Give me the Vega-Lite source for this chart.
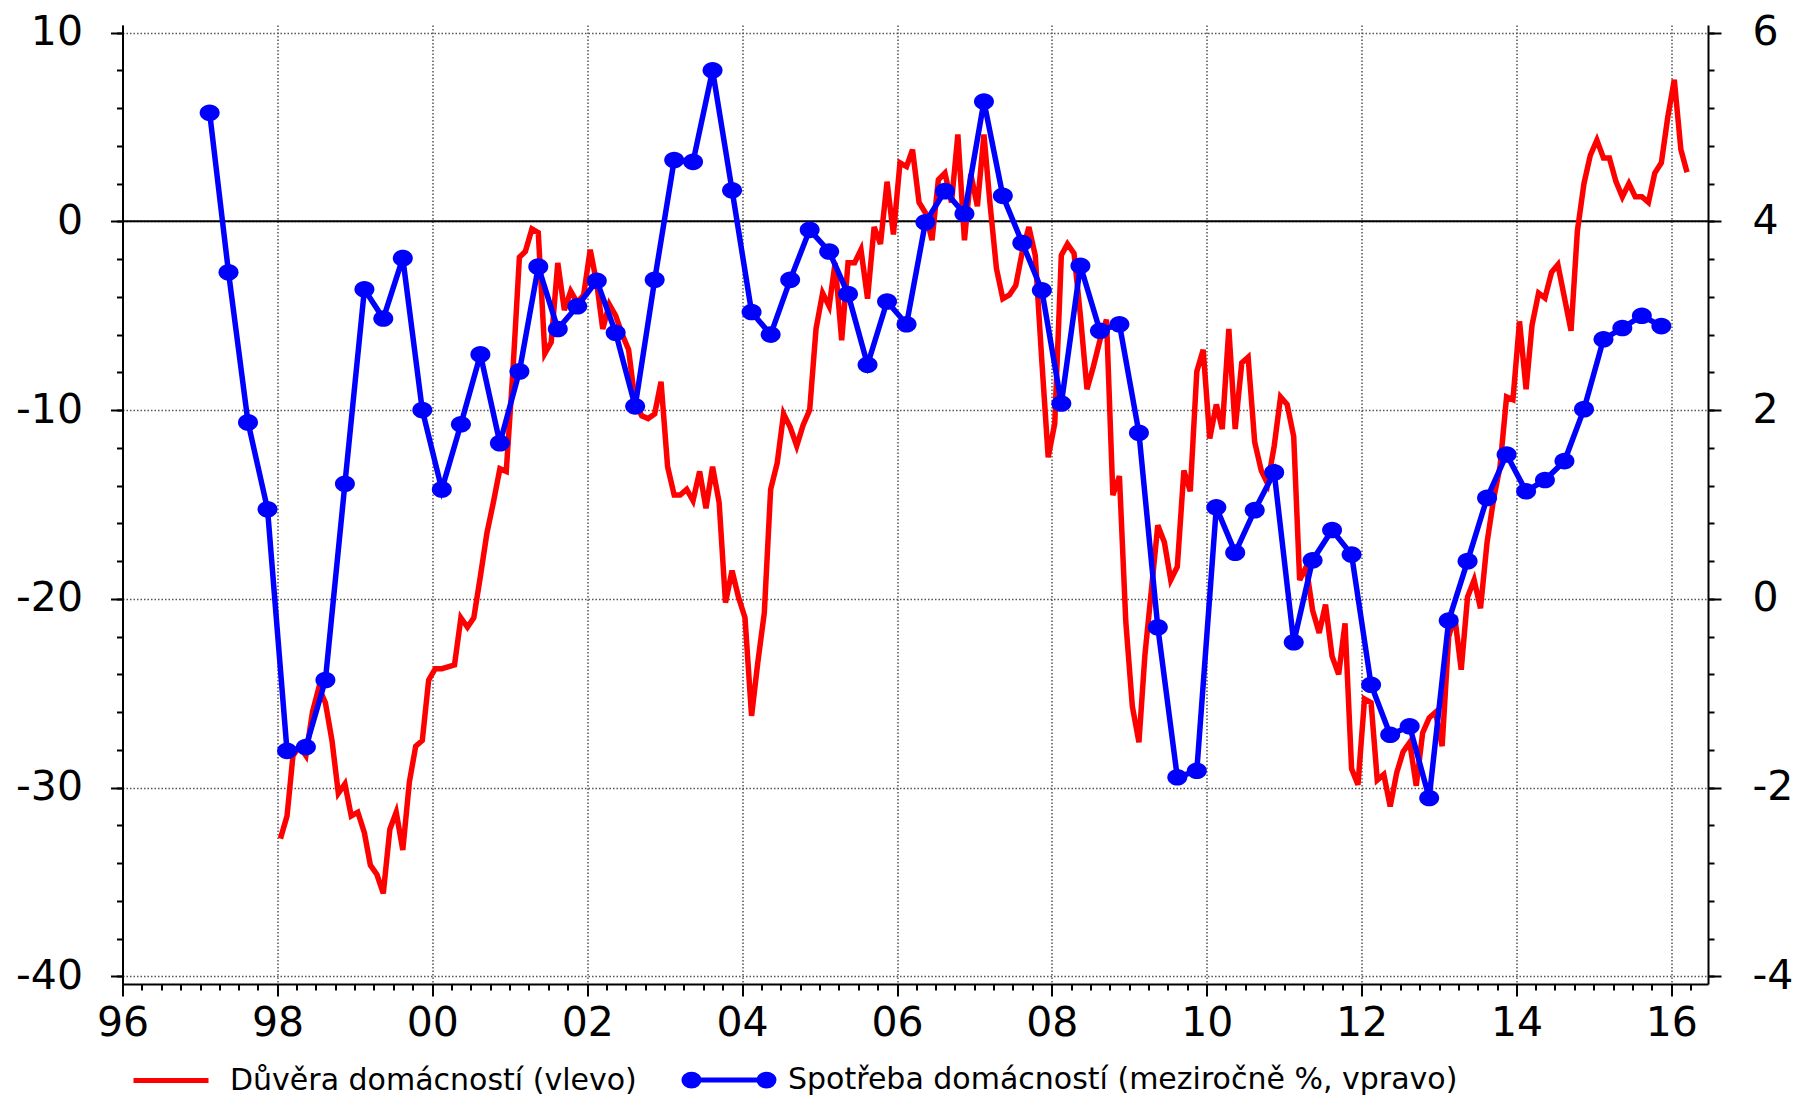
{
 "$schema": "https://vega.github.io/schema/vega-lite/v6.json",
 "width": 1585.5,
 "height": 959,
 "autosize": {"type": "none"},
 "padding": {"left": 122.5, "top": 25, "right": 92, "bottom": 112},
 "background": "white",
 "config": {"view": {"stroke": null}, "font": "DejaVu Sans"},
 "datasets": {
  "conf": [
   {"d":"1998-01-15","v":-32.7},{"d":"1998-02-15","v":-31.5},{"d":"1998-03-15","v":-28.3},{"d":"1998-04-15","v":-27.8},{"d":"1998-05-15","v":-28.3},{"d":"1998-06-15","v":-26.0},{"d":"1998-07-15","v":-24.7},{"d":"1998-08-15","v":-25.5},{"d":"1998-09-15","v":-27.5},{"d":"1998-10-15","v":-30.3},{"d":"1998-11-15","v":-29.8},{"d":"1998-12-15","v":-31.5},
   {"d":"1999-01-15","v":-31.3},{"d":"1999-02-15","v":-32.4},{"d":"1999-03-15","v":-34.1},{"d":"1999-04-15","v":-34.6},{"d":"1999-05-15","v":-35.6},{"d":"1999-06-15","v":-32.2},{"d":"1999-07-15","v":-31.3},{"d":"1999-08-15","v":-33.3},{"d":"1999-09-15","v":-29.7},{"d":"1999-10-15","v":-27.8},{"d":"1999-11-15","v":-27.5},{"d":"1999-12-15","v":-24.3},
   {"d":"2000-01-15","v":-23.7},{"d":"2000-02-15","v":-23.7},{"d":"2000-03-15","v":-23.6},{"d":"2000-04-15","v":-23.5},{"d":"2000-05-15","v":-21.0},{"d":"2000-06-15","v":-21.5},{"d":"2000-07-15","v":-21.0},{"d":"2000-08-15","v":-18.8},{"d":"2000-09-15","v":-16.5},{"d":"2000-10-15","v":-14.9},{"d":"2000-11-15","v":-13.1},{"d":"2000-12-15","v":-13.25},
   {"d":"2001-01-15","v":-8.0},{"d":"2001-02-15","v":-1.9},{"d":"2001-03-15","v":-1.6},{"d":"2001-04-15","v":-0.4},{"d":"2001-05-15","v":-0.6},{"d":"2001-06-15","v":-7.0},{"d":"2001-07-15","v":-6.4},{"d":"2001-08-15","v":-2.2},{"d":"2001-09-15","v":-4.7},{"d":"2001-10-15","v":-3.7},{"d":"2001-11-15","v":-4.3},{"d":"2001-12-15","v":-3.9},
   {"d":"2002-01-15","v":-1.5},{"d":"2002-02-15","v":-3.3},{"d":"2002-03-15","v":-5.7},{"d":"2002-04-15","v":-4.4},{"d":"2002-05-15","v":-5.0},{"d":"2002-06-15","v":-6.0},{"d":"2002-07-15","v":-6.8},{"d":"2002-08-15","v":-9.6},{"d":"2002-09-15","v":-10.3},{"d":"2002-10-15","v":-10.45},{"d":"2002-11-15","v":-10.2},{"d":"2002-12-15","v":-8.5},
   {"d":"2003-01-15","v":-13.0},{"d":"2003-02-15","v":-14.5},{"d":"2003-03-15","v":-14.5},{"d":"2003-04-15","v":-14.2},{"d":"2003-05-15","v":-14.8},{"d":"2003-06-15","v":-13.25},{"d":"2003-07-15","v":-15.2},{"d":"2003-08-15","v":-13.0},{"d":"2003-09-15","v":-14.9},{"d":"2003-10-15","v":-20.2},{"d":"2003-11-15","v":-18.5},{"d":"2003-12-15","v":-19.9},
   {"d":"2004-01-15","v":-21.0},{"d":"2004-02-15","v":-26.2},{"d":"2004-03-15","v":-23.4},{"d":"2004-04-15","v":-20.75},{"d":"2004-05-15","v":-14.2},{"d":"2004-06-15","v":-12.8},{"d":"2004-07-15","v":-10.2},{"d":"2004-08-15","v":-10.9},{"d":"2004-09-15","v":-11.9},{"d":"2004-10-15","v":-10.8},{"d":"2004-11-15","v":-10.0},{"d":"2004-12-15","v":-5.7},
   {"d":"2005-01-15","v":-3.8},{"d":"2005-02-15","v":-4.5},{"d":"2005-03-15","v":-2.2},{"d":"2005-04-15","v":-6.3},{"d":"2005-05-15","v":-2.2},{"d":"2005-06-15","v":-2.2},{"d":"2005-07-15","v":-1.5},{"d":"2005-08-15","v":-4.1},{"d":"2005-09-15","v":-0.3},{"d":"2005-10-15","v":-1.2},{"d":"2005-11-15","v":2.1},{"d":"2005-12-15","v":-0.7},
   {"d":"2006-01-15","v":3.1},{"d":"2006-02-15","v":2.9},{"d":"2006-03-15","v":3.8},{"d":"2006-04-15","v":1.0},{"d":"2006-05-15","v":0.45},{"d":"2006-06-15","v":-1.0},{"d":"2006-07-15","v":2.2},{"d":"2006-08-15","v":2.56},{"d":"2006-09-15","v":1.0},{"d":"2006-10-15","v":4.6},{"d":"2006-11-15","v":-1.0},{"d":"2006-12-15","v":2.5},
   {"d":"2007-01-15","v":0.8},{"d":"2007-02-15","v":4.6},{"d":"2007-03-15","v":1.0},{"d":"2007-04-15","v":-2.5},{"d":"2007-05-15","v":-4.1},{"d":"2007-06-15","v":-3.9},{"d":"2007-07-15","v":-3.4},{"d":"2007-08-15","v":-1.6},{"d":"2007-09-15","v":-0.3},{"d":"2007-10-15","v":-1.8},{"d":"2007-11-15","v":-7.4},{"d":"2007-12-15","v":-12.5},
   {"d":"2008-01-15","v":-10.7},{"d":"2008-02-15","v":-1.8},{"d":"2008-03-15","v":-1.2},{"d":"2008-04-15","v":-1.7},{"d":"2008-05-15","v":-5.0},{"d":"2008-06-15","v":-8.9},{"d":"2008-07-15","v":-7.7},{"d":"2008-08-15","v":-6.3},{"d":"2008-09-15","v":-5.2},{"d":"2008-10-15","v":-14.5},{"d":"2008-11-15","v":-13.5},{"d":"2008-12-15","v":-21.2},
   {"d":"2009-01-15","v":-25.7},{"d":"2009-02-15","v":-27.6},{"d":"2009-03-15","v":-23.0},{"d":"2009-04-15","v":-19.5},{"d":"2009-05-15","v":-16.1},{"d":"2009-06-15","v":-17.0},{"d":"2009-07-15","v":-19.0},{"d":"2009-08-15","v":-18.3},{"d":"2009-09-15","v":-13.2},{"d":"2009-10-15","v":-14.3},{"d":"2009-11-15","v":-7.95},{"d":"2009-12-15","v":-6.8},
   {"d":"2010-01-15","v":-11.5},{"d":"2010-02-15","v":-9.7},{"d":"2010-03-15","v":-11.0},{"d":"2010-04-15","v":-5.7},{"d":"2010-05-15","v":-11.0},{"d":"2010-06-15","v":-7.5},{"d":"2010-07-15","v":-7.2},{"d":"2010-08-15","v":-11.7},{"d":"2010-09-15","v":-13.2},{"d":"2010-10-15","v":-13.9},{"d":"2010-11-15","v":-11.9},{"d":"2010-12-15","v":-9.3},
   {"d":"2011-01-15","v":-9.7},{"d":"2011-02-15","v":-11.4},{"d":"2011-03-15","v":-19.0},{"d":"2011-04-15","v":-18.3},{"d":"2011-05-15","v":-20.6},{"d":"2011-06-15","v":-21.8},{"d":"2011-07-15","v":-20.3},{"d":"2011-08-15","v":-23.05},{"d":"2011-09-15","v":-24.0},{"d":"2011-10-15","v":-21.3},{"d":"2011-11-15","v":-29.0},{"d":"2011-12-15","v":-29.85},
   {"d":"2012-01-15","v":-25.3},{"d":"2012-02-15","v":-25.5},{"d":"2012-03-15","v":-29.6},{"d":"2012-04-15","v":-29.3},{"d":"2012-05-15","v":-31.0},{"d":"2012-06-15","v":-29.2},{"d":"2012-07-15","v":-28.1},{"d":"2012-08-15","v":-27.6},{"d":"2012-09-15","v":-29.9},{"d":"2012-10-15","v":-27.1},{"d":"2012-11-15","v":-26.3},{"d":"2012-12-15","v":-26.0},
   {"d":"2013-01-15","v":-27.8},{"d":"2013-02-15","v":-22.0},{"d":"2013-03-15","v":-20.9},{"d":"2013-04-15","v":-23.75},{"d":"2013-05-15","v":-19.9},{"d":"2013-06-15","v":-19.0},{"d":"2013-07-15","v":-20.5},{"d":"2013-08-15","v":-17.0},{"d":"2013-09-15","v":-14.7},{"d":"2013-10-15","v":-13.0},{"d":"2013-11-15","v":-9.3},{"d":"2013-12-15","v":-9.45},
   {"d":"2014-01-15","v":-5.3},{"d":"2014-02-15","v":-8.9},{"d":"2014-03-15","v":-5.5},{"d":"2014-04-15","v":-3.8},{"d":"2014-05-15","v":-4.06},{"d":"2014-06-15","v":-2.7},{"d":"2014-07-15","v":-2.3},{"d":"2014-08-15","v":-4.05},{"d":"2014-09-15","v":-5.8},{"d":"2014-10-15","v":-0.5},{"d":"2014-11-15","v":2.0},{"d":"2014-12-15","v":3.5},
   {"d":"2015-01-15","v":4.3},{"d":"2015-02-15","v":3.36},{"d":"2015-03-15","v":3.36},{"d":"2015-04-15","v":2.1},{"d":"2015-05-15","v":1.3},{"d":"2015-06-15","v":2.0},{"d":"2015-07-15","v":1.3},{"d":"2015-08-15","v":1.3},{"d":"2015-09-15","v":1.0},{"d":"2015-10-15","v":2.56},{"d":"2015-11-15","v":3.1},{"d":"2015-12-15","v":5.5},
   {"d":"2016-01-15","v":7.5},{"d":"2016-02-15","v":3.8},{"d":"2016-03-15","v":2.6}
  ],
  "cons": [
   {"d":"1997-02-15","v":5.15},{"d":"1997-05-15","v":3.46},{"d":"1997-08-15","v":1.87},{"d":"1997-11-15","v":0.95},
   {"d":"1998-02-15","v":-1.61},{"d":"1998-05-15","v":-1.57},{"d":"1998-08-15","v":-0.86},{"d":"1998-11-15","v":1.22},
   {"d":"1999-02-15","v":3.28},{"d":"1999-05-15","v":2.97},{"d":"1999-08-15","v":3.61},{"d":"1999-11-15","v":2.0},
   {"d":"2000-02-15","v":1.16},{"d":"2000-05-15","v":1.85},{"d":"2000-08-15","v":2.59},{"d":"2000-11-15","v":1.65},
   {"d":"2001-02-15","v":2.41},{"d":"2001-05-15","v":3.52},{"d":"2001-08-15","v":2.86},{"d":"2001-11-15","v":3.1},
   {"d":"2002-02-15","v":3.37},{"d":"2002-05-15","v":2.82},{"d":"2002-08-15","v":2.04},{"d":"2002-11-15","v":3.38},
   {"d":"2003-02-15","v":4.65},{"d":"2003-05-15","v":4.63},{"d":"2003-08-15","v":5.6},{"d":"2003-11-15","v":4.33},
   {"d":"2004-02-15","v":3.04},{"d":"2004-05-15","v":2.8},{"d":"2004-08-15","v":3.38},{"d":"2004-11-15","v":3.91},
   {"d":"2005-02-15","v":3.68},{"d":"2005-05-15","v":3.23},{"d":"2005-08-15","v":2.48},{"d":"2005-11-15","v":3.15},
   {"d":"2006-02-15","v":2.91},{"d":"2006-05-15","v":3.99},{"d":"2006-08-15","v":4.32},{"d":"2006-11-15","v":4.08},
   {"d":"2007-02-15","v":5.27},{"d":"2007-05-15","v":4.27},{"d":"2007-08-15","v":3.77},{"d":"2007-11-15","v":3.27},
   {"d":"2008-02-15","v":2.07},{"d":"2008-05-15","v":3.53},{"d":"2008-08-15","v":2.84},{"d":"2008-11-15","v":2.91},
   {"d":"2009-02-15","v":1.76},{"d":"2009-05-15","v":-0.3},{"d":"2009-08-15","v":-1.89},{"d":"2009-11-15","v":-1.82},
   {"d":"2010-02-15","v":0.97},{"d":"2010-05-15","v":0.49},{"d":"2010-08-15","v":0.94},{"d":"2010-11-15","v":1.34},
   {"d":"2011-02-15","v":-0.46},{"d":"2011-05-15","v":0.41},{"d":"2011-08-15","v":0.73},{"d":"2011-11-15","v":0.47},
   {"d":"2012-02-15","v":-0.91},{"d":"2012-05-15","v":-1.44},{"d":"2012-08-15","v":-1.35},{"d":"2012-11-15","v":-2.11},
   {"d":"2013-02-15","v":-0.23},{"d":"2013-05-15","v":0.4},{"d":"2013-08-15","v":1.07},{"d":"2013-11-15","v":1.53},
   {"d":"2014-02-15","v":1.14},{"d":"2014-05-15","v":1.26},{"d":"2014-08-15","v":1.46},{"d":"2014-11-15","v":2.01},
   {"d":"2015-02-15","v":2.75},{"d":"2015-05-15","v":2.87},{"d":"2015-08-15","v":3.0},{"d":"2015-11-15","v":2.89}
  ]
 },
 "layer": [
  {
   "data": {"values": [{}]},
   "mark": {"type": "rule", "color": "black", "strokeWidth": 2},
   "encoding": {
    "y": {"datum": 0, "type": "quantitative", "scale": {"domain": [-40.4, 10.4], "nice": false, "zero": false}, "axis": null}
   }
  },
  {
   "data": {"name": "conf"},
   "mark": {"type": "line", "strokeWidth": 5.5},
   "encoding": {
    "x": {"field": "d", "type": "temporal",
     "scale": {"type": "utc", "domain": [{"year": 1996, "month": 1, "date": 1, "utc": true}, {"year": 2016, "month": 6, "date": 22, "utc": true}]},
     "axis": {
      "values": [{"year": 1996, "month": 1, "date": 1, "utc": true}, {"year": 1998, "month": 1, "date": 1, "utc": true}, {"year": 2000, "month": 1, "date": 1, "utc": true}, {"year": 2002, "month": 1, "date": 1, "utc": true}, {"year": 2004, "month": 1, "date": 1, "utc": true}, {"year": 2006, "month": 1, "date": 1, "utc": true}, {"year": 2008, "month": 1, "date": 1, "utc": true}, {"year": 2010, "month": 1, "date": 1, "utc": true}, {"year": 2012, "month": 1, "date": 1, "utc": true}, {"year": 2014, "month": 1, "date": 1, "utc": true}, {"year": 2016, "month": 1, "date": 1, "utc": true}],
      "labelExpr": "utcFormat(datum.value, '%y')",
      "title": null, "orient": "bottom",
      "grid": true, "gridColor": "#555", "gridDash": [1.5, 2], "gridWidth": 1.5,
      "tickSize": 12, "tickWidth": 2, "tickColor": "black",
      "domainColor": "black", "domainWidth": 2,
      "labelFont": "DejaVu Sans", "labelFontSize": 41, "labelColor": "black", "labelPadding": 7,
      "labelFlush": false, "labelOverlap": false
     }
    },
    "y": {"field": "v", "type": "quantitative",
     "scale": {"domain": [-40.4, 10.4], "nice": false, "zero": false},
     "axis": {
      "orient": "left", "values": [-40, -30, -20, -10, 0, 10], "title": null,
      "labelExpr": "'' + datum.value",
      "grid": true, "gridColor": "#555", "gridDash": [1.5, 2], "gridWidth": 1.5,
      "tickSize": 12, "tickWidth": 2, "tickColor": "black",
      "domainColor": "black", "domainWidth": 2,
      "labelFont": "DejaVu Sans", "labelFontSize": 41, "labelColor": "black", "labelPadding": 28,
      "labelFlush": false, "labelOverlap": false
     }
    },
    "color": {"datum": "Důvěra domácností (vlevo)", "type": "nominal",
     "scale": {"domain": ["Důvěra domácností (vlevo)", "Spotřeba domácností (meziročně %, vpravo)"], "range": ["#ff0000", "#0000ff"]},
     "legend": {
      "orient": "none", "legendX": 8.5, "legendY": 1015, "direction": "horizontal", "title": null,
      "symbolType": "M-1,0L1,0", "symbolSize": 5625, "symbolStrokeWidth": 5,
      "labelFont": "DejaVu Sans", "labelFontSize": 30, "labelColor": "black", "labelOffset": 19, "labelLimit": 3000,
      "columnPadding": 37, "padding": 0,
      "encode": {
       "symbols": {"update": {
        "shape": {"signal": "datum.index === 1 ? 'M-1,0L1,0M-1.2,0A0.2,0.155,0,1,0,-0.8,0A0.2,0.155,0,1,0,-1.2,0ZM0.8,0A0.2,0.155,0,1,0,1.2,0A0.2,0.155,0,1,0,0.8,0Z' : 'M-1,0L1,0'"},
        "fill": {"signal": "datum.index === 1 ? '#0000ff' : 'transparent'"},
        "stroke": {"signal": "datum.index === 1 ? '#0000ff' : '#ff0000'"},
        "strokeWidth": {"value": 5},
        "opacity": {"value": 1}
       }}
      }
     }
    }
   }
  },
  {
   "data": {"name": "conf"},
   "mark": {"type": "point", "opacity": 0},
   "encoding": {
    "x": {"field": "d", "type": "temporal",
     "scale": {"type": "utc", "domain": [{"year": 1996, "month": 1, "date": 1, "utc": true}, {"year": 2016, "month": 6, "date": 22, "utc": true}]},
     "axis": {"orient": "bottom", "tickCount": {"interval": "month", "step": 3}, "labels": false, "grid": false, "domain": false, "title": null, "tickSize": 6, "tickWidth": 2, "tickColor": "black"}
    },
    "y": {"field": "v", "type": "quantitative",
     "scale": {"domain": [-40.4, 10.4], "nice": false, "zero": false},
     "axis": {"orient": "left", "values": [-40, -38, -36, -34, -32, -30, -28, -26, -24, -22, -20, -18, -16, -14, -12, -10, -8, -6, -4, -2, 0, 2, 4, 6, 8, 10], "labels": false, "grid": false, "domain": false, "title": null, "tickSize": 6, "tickWidth": 2, "tickColor": "black"}
    }
   }
  },
  {
   "data": {"name": "cons"},
   "mark": {"type": "line", "strokeWidth": 5.5, "point": {"filled": true, "shape": "M-1,0A1,0.83,0,1,0,1,0A1,0.83,0,1,0,-1,0Z", "size": 400, "opacity": 1}},
   "encoding": {
    "x": {"field": "d", "type": "temporal",
     "scale": {"type": "utc", "domain": [{"year": 1996, "month": 1, "date": 1, "utc": true}, {"year": 2016, "month": 6, "date": 22, "utc": true}]},
     "axis": null},
    "y": {"field": "v", "type": "quantitative",
     "scale": {"domain": [-4.08, 6.08], "nice": false, "zero": false},
     "axis": {
      "orient": "right", "values": [-4, -2, 0, 2, 4, 6], "title": null, "grid": false,
      "labelExpr": "'' + datum.value",
      "tickSize": 13, "tickWidth": 2, "tickColor": "black",
      "domainColor": "black", "domainWidth": 2,
      "labelFont": "DejaVu Sans", "labelFontSize": 41, "labelColor": "black", "labelPadding": 31,
      "labelFlush": false, "labelOverlap": false
     }
    },
    "color": {"datum": "Spotřeba domácností (meziročně %, vpravo)", "type": "nominal"}
   }
  },
  {
   "data": {"name": "cons"},
   "mark": {"type": "point", "opacity": 0},
   "encoding": {
    "x": {"field": "d", "type": "temporal",
     "scale": {"type": "utc", "domain": [{"year": 1996, "month": 1, "date": 1, "utc": true}, {"year": 2016, "month": 6, "date": 22, "utc": true}]},
     "axis": null},
    "y": {"field": "v", "type": "quantitative",
     "scale": {"domain": [-4.08, 6.08], "nice": false, "zero": false},
     "axis": {"orient": "right", "values": [-4, -3.6, -3.2, -2.8, -2.4, -2, -1.6, -1.2, -0.8, -0.4, 0, 0.4, 0.8, 1.2, 1.6, 2, 2.4, 2.8, 3.2, 3.6, 4, 4.4, 4.8, 5.2, 5.6, 6], "labels": false, "grid": false, "domain": false, "title": null, "tickSize": 6, "tickWidth": 2, "tickColor": "black"}
    }
   }
  }
 ],
 "resolve": {"scale": {"y": "independent"}, "axis": {"x": "independent", "y": "independent"}}
}
